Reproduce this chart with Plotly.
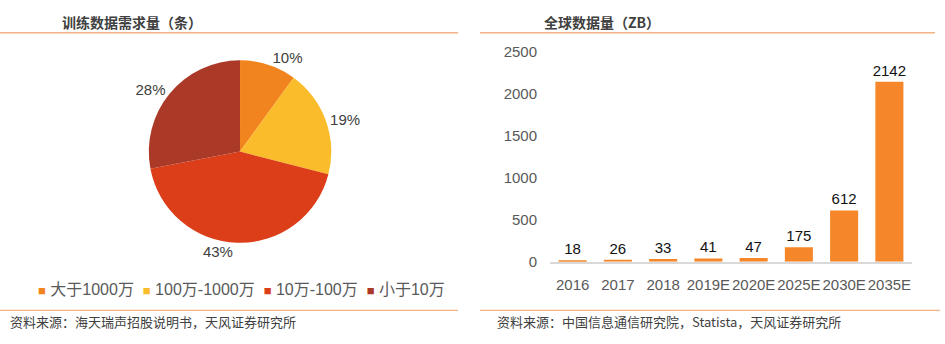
import plotly.graph_objects as go

# Training data demand split (share of projects by sample count)
pie_labels = ["大于1000万", "100万-1000万", "10万-100万", "小于10万"]
pie_values = [10, 19, 43, 28]
pie_colors = ["#F2841F", "#FBBC2C", "#DB3E18", "#AA3A27"]

# Global data volume (ZB)
years = ["2016", "2017", "2018", "2019E", "2020E", "2025E", "2030E", "2035E"]
volume = [18, 26, 33, 41, 47, 175, 612, 2142]
bar_color = "#F5862A"

left_title = "训练数据需求量（条）"
right_title = "全球数据量（ZB）"
left_source = "资料来源：海天瑞声招股说明书，天风证券研究所"
right_source = "资料来源：中国信息通信研究院，Statista，天风证券研究所"

FONT = "Liberation Sans, Arial, Noto Sans CJK SC, sans-serif"
CJK = "Noto Sans CJK SC, Liberation Sans, sans-serif"
TXT = "#404040"
W, H = 945, 344

fig = go.Figure()

fig.add_trace(go.Pie(
    labels=pie_labels,
    values=pie_values,
    marker=dict(colors=pie_colors, line=dict(width=0)),
    sort=False,
    direction="clockwise",
    rotation=0,
    texttemplate="%{value}%",
    textposition="outside",
    textfont=dict(family=FONT, size=15, color=TXT),
    domain=dict(x=[0.147, 0.361], y=[0.285, 0.843]),
    showlegend=False,
    hoverinfo="label+value",
))

fig.add_trace(go.Bar(
    x=years,
    y=volume,
    marker=dict(color=bar_color, line=dict(width=0)),
    text=[str(v) for v in volume],
    textposition="outside",
    constraintext="none",
    textfont=dict(family=FONT, size=15, color="#111111"),
    cliponaxis=False,
    showlegend=False,
    xaxis="x",
    yaxis="y",
))

# Legend row for the pie, drawn as coloured squares followed by labels
legend_html = "&nbsp;&nbsp;".join(
    f"<span style='color:{c};font-size:13px'>■</span>&nbsp;{lab}"
    for lab, c in zip(pie_labels, pie_colors)
)

annotations = [
    dict(text=f"<b>{left_title}</b>", x=60 / W, y=1 - 14 / H, xref="paper", yref="paper",
         xanchor="left", yanchor="middle", showarrow=False,
         font=dict(family=CJK, size=14, color=TXT)),
    dict(text=f"<b>{right_title}</b>", x=542 / W, y=1 - 14 / H, xref="paper", yref="paper",
         xanchor="left", yanchor="middle", showarrow=False,
         font=dict(family=CJK, size=14, color=TXT)),
    dict(text=legend_html, x=36 / W, y=1 - 295 / H, xref="paper", yref="paper",
         xanchor="left", yanchor="middle", showarrow=False,
         font=dict(family=FONT, size=16, color="#595959")),
    dict(text=left_source, x=8 / W, y=1 - 329 / H, xref="paper", yref="paper",
         xanchor="left", yanchor="middle", showarrow=False,
         font=dict(family=CJK, size=13, color=TXT)),
    dict(text=right_source, x=495 / W, y=1 - 329 / H, xref="paper", yref="paper",
         xanchor="left", yanchor="middle", showarrow=False,
         font=dict(family=CJK, size=13, color=TXT)),
]

line_color = "#F4B183"
shapes = [
    dict(type="line", xref="paper", yref="paper", x0=0, x1=458 / W,
         y0=1 - 25 / H, y1=1 - 25 / H, line=dict(color=line_color, width=1.3)),
    dict(type="line", xref="paper", yref="paper", x0=480 / W, x1=935 / W,
         y0=1 - 25 / H, y1=1 - 25 / H, line=dict(color=line_color, width=1.3)),
    dict(type="line", xref="paper", yref="paper", x0=0, x1=458 / W,
         y0=1 - 317 / H, y1=1 - 317 / H, line=dict(color=line_color, width=1.3)),
    dict(type="line", xref="paper", yref="paper", x0=480 / W, x1=940 / W,
         y0=1 - 317 / H, y1=1 - 317 / H, line=dict(color=line_color, width=1.3)),
]

fig.update_layout(
    width=W, height=H,
    margin=dict(l=0, r=0, t=0, b=0),
    paper_bgcolor="white",
    plot_bgcolor="white",
    bargap=0.38,
    annotations=annotations,
    shapes=shapes,
    xaxis=dict(
        domain=[550 / W, 912 / W],
        type="category",
        showgrid=False,
        showline=True,
        linecolor="#D9D9D9",
        linewidth=1.5,
        ticks="",
        tickangle=0,
        ticklabelstandoff=8,
        tickfont=dict(family=FONT, size=15, color="#595959"),
        fixedrange=True,
    ),
    yaxis=dict(
        domain=[1 - 266 / H, 1 - 45 / H],
        range=[0, 2500],
        dtick=500,
        showgrid=False,
        zeroline=False,
        showline=False,
        ticks="",
        ticklabelstandoff=12,
        tickfont=dict(family=FONT, size=15, color="#595959"),
        fixedrange=True,
    ),
)

fig.write_html("out.html")
